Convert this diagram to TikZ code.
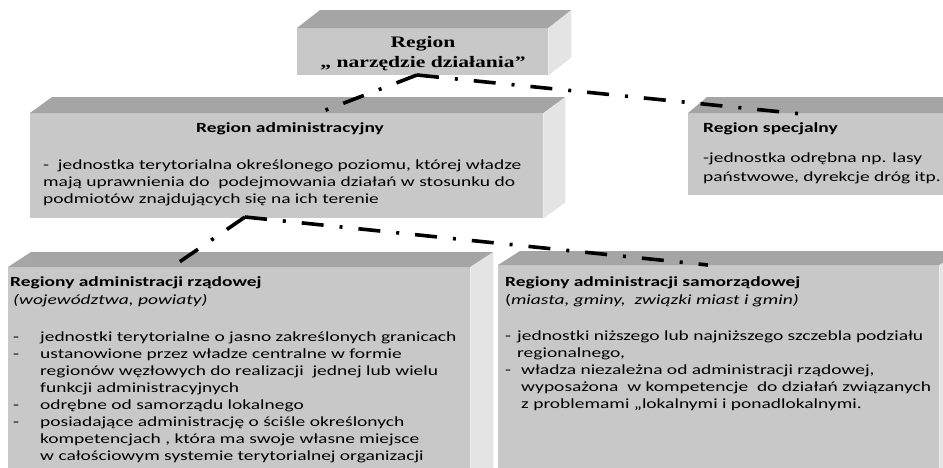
\documentclass[tikz,border=0pt]{standalone}
\usepackage{fontspec}
\setmainfont[FakeStretch=1.39]{Carlito}
\newfontfamily\serifbold[FakeStretch=1.35]{Liberation Serif}
\usetikzlibrary{positioning}
\definecolor{mfront}{RGB}{200, 200, 200}
\definecolor{mtop}{RGB}{165, 165, 165}
\definecolor{mside}{RGB}{228, 228, 228}
\tikzset{front/.style = {fill=mfront, inner sep=0, anchor=north west}}
\tikzset{lid/.style = {fill=mtop}}
\tikzset{flank/.style = {fill=mside}}
\tikzset{link/.style = {line width=3.6pt, dash pattern=on 22pt off 16pt on 3pt off 16pt}}
\tikzset{heading/.style = {font=\fontsize{14}{17}\selectfont\bfseries, inner sep=0, anchor=base west}}
\tikzset{body/.style = {font=\fontsize{14}{17}\selectfont, align=left, inner sep=0, anchor=base west}}
% top face and side face of a box drawn on a front node
\newcommand\cuboid[3]{%
    \fill [lid] (#1.north west) -- ++(#2, -#3) -- ([shift={(#2, -#3)}]#1.north east) -- (#1.north east) -- cycle;
    \fill [flank] (#1.north east) -- ([shift={(#2, -#3)}]#1.north east) -- ([shift={(#2, -#3)}]#1.south east) -- (#1.south east) -- cycle;
}

\begin{document}
\begin{tikzpicture}[x=1pt, y=-1pt]
    \useasboundingbox (0, 0) rectangle (943, 467);
    \clip (0, 0) rectangle (943, 467);

    % base of a multi-line node = baseline of its last line
    \node [front, minimum width=251, minimum height=47] (narzedzie) at (297, 28) {};
    \cuboid{narzedzie}{23}{18}
    \node [align=center, inner sep=0, anchor=base, font=\serifbold\bfseries\fontsize{16}{19.5}\selectfont] (narzedzietext) at (423, 67) {Region\\„ narzędzie działania”};

    \node [front, minimum width=513, minimum height=105] (admin) at (30, 113) {};
    \cuboid{admin}{22}{16}
    \node [heading, anchor=base] (admintitle) at (290, 132) {Region administracyjny};
    \node [body] (admintext) at (43, 203) {-\ \ jednostka terytorialna określonego poziomu, której władze\\mają uprawnienia do\ \ podejmowania działań w stosunku do\\podmiotów znajdujących się na ich terenie};

    \node [front, minimum width=260, minimum height=82] (specjalny) at (688, 113) {};
    \cuboid{specjalny}{19}{16}
    \node [heading] (specjalnytitle) at (703, 132) {Region specjalny};
    \node [body, font=\fontsize{14}{19}\selectfont] (specjalnytext) at (703, 181) {-jednostka odrębna np. lasy\\państwowe, dyrekcje dróg itp.};

    \node [front, minimum width=462, minimum height=215] (rzadowe) at (8, 267) {};
    \cuboid{rzadowe}{23}{15}
    \node [heading] (rzadowetitle) at (10, 286) {Regiony administracji rządowej};
    \node [body] (rzadowesub) at (13, 304) {\itshape(województwa, powiaty)};
    \node [body] (rzadowetext) at (13, 460) {\makebox[27pt][l]{-}jednostki terytorialne o jasno zakreślonych granicach\\
        \makebox[27pt][l]{-}ustanowione przez władze centralne w formie\\
        \hspace*{27pt}regionów węzłowych do realizacji\ \ jednej lub wielu\\
        \hspace*{27pt}funkcji administracyjnych\\
        \makebox[27pt][l]{-}odrębne od samorządu lokalnego\\
        \makebox[27pt][l]{-}posiadające administrację o ściśle określonych\\
        \hspace*{27pt}kompetencjach , która ma swoje własne miejsce\\
        \hspace*{27pt}w całościowym systemie terytorialnej organizacji};

    \node [front, minimum width=441, minimum height=215] (samorzad) at (498, 265) {};
    \cuboid{samorzad}{22}{14}
    \node [heading] (samorzadtitle) at (505, 286) {Regiony administracji samorządowej};
    \node [body] (samorzadsub) at (505, 304) {(\textit{miasta, gminy,\ \ związki miast i gmin)}};
    \node [body] (samorzadtext) at (505, 408) {\makebox[12pt][l]{-}jednostki niższego lub najniższego szczebla podziału\\
        \hspace*{12pt}regionalnego,\\
        \makebox[16pt][l]{-}władza niezależna od administracji rządowej,\\
        \hspace*{16pt}wyposażona\ \ w kompetencje\ \ do działań związanych\\
        \hspace*{16pt}z problemami „lokalnymi i ponadlokalnymi.};

    \coordinate (hubtop) at (417, 75);
    \coordinate (adminend) at (318, 113);
    \coordinate (specjalnyend) at (802, 114);
    \coordinate (hubmid) at (245, 217);
    \coordinate (rzadoweend) at (175, 265);
    \coordinate (samorzadend) at (708, 265);

    \draw [link] (hubtop) -- (adminend);
    \draw [link] (hubtop) -- (specjalnyend);
    \draw [link] (hubmid) -- (rzadoweend);
    \draw [link] (hubmid) -- (samorzadend);
\end{tikzpicture}
\end{document}
